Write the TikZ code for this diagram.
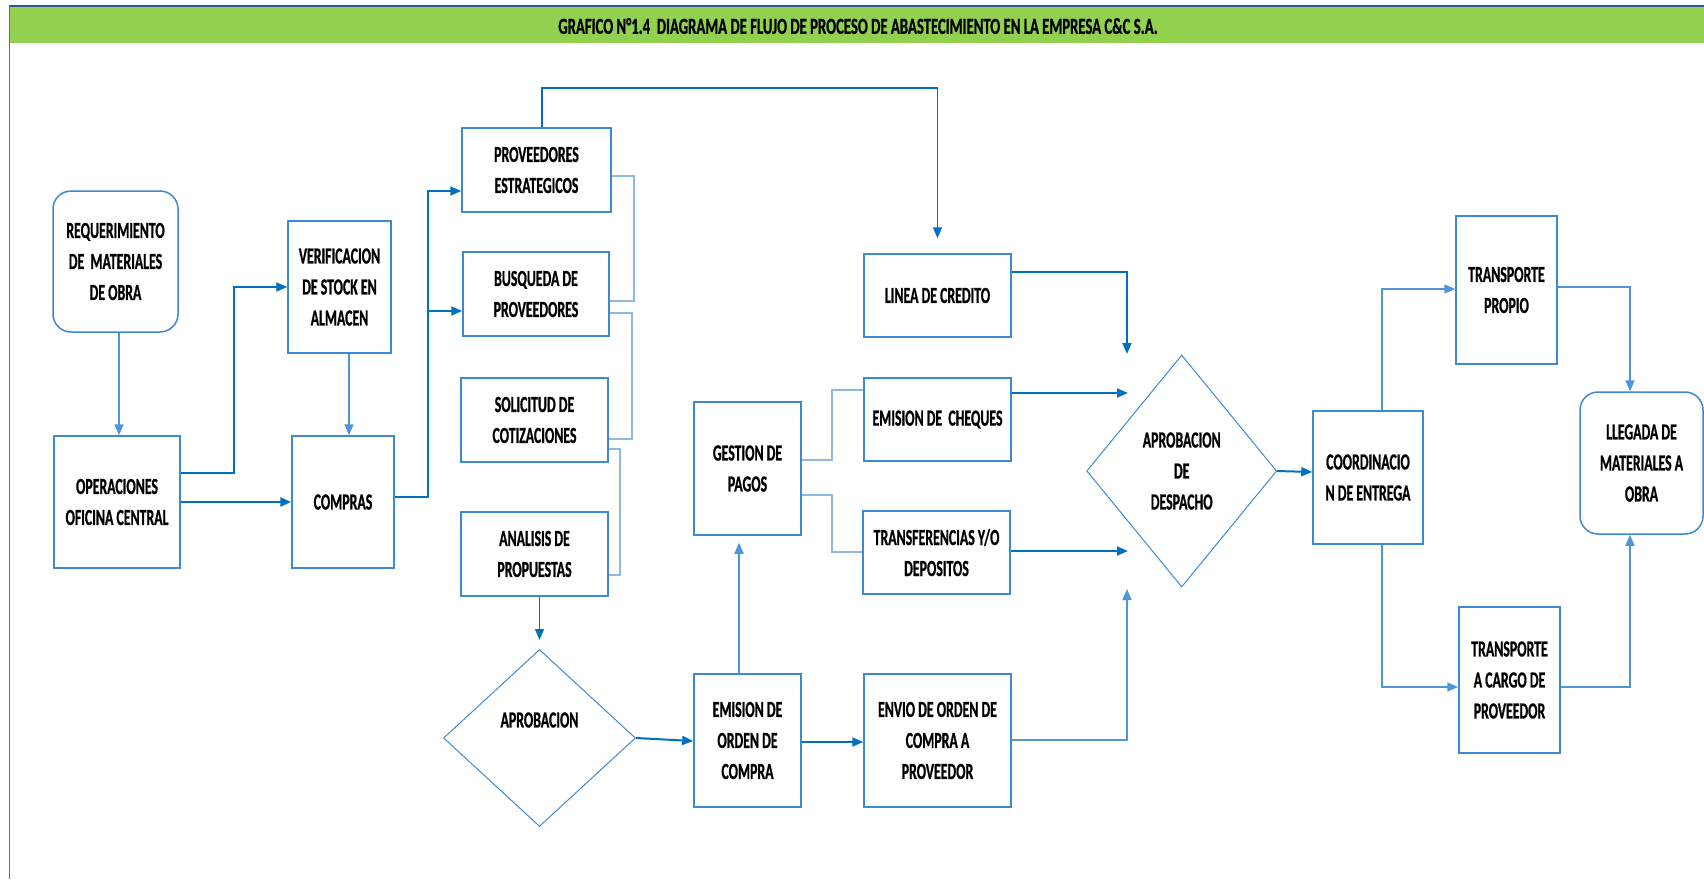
\documentclass[tikz,border=0pt]{standalone}
\usepackage{fontspec}
\usetikzlibrary{arrows.meta,shapes.geometric}
\newfontfamily\flowfont{Carlito}[FakeStretch=0.6, FakeBold=0.8]
\newfontfamily\headfont{Carlito}[FakeStretch=0.64, FakeBold=0.8]
\definecolor{boxblue}{HTML}{3E8AD2}
\definecolor{arrowblue}{HTML}{0070C0}
\definecolor{midblue}{HTML}{4F96D8}
\definecolor{lightblue}{HTML}{8DB9E3}
\definecolor{bandgreen}{HTML}{92D050}
\definecolor{frameblue}{HTML}{2F5597}
\definecolor{sideblue}{HTML}{4472C4}
\tikzset{
  stepbox/.style={draw=boxblue, line width=1.5pt, fill=white, inner sep=0pt,
    align=center, font=\flowfont\bfseries\fontsize{23}{31}\selectfont},
  roundbox/.style={stepbox, rounded corners=18pt},
  decision/.style={draw=boxblue, line width=1pt, diamond, inner sep=0pt,
    font=\flowfont\bfseries\fontsize{23}{31}\selectfont, align=center},
  arr/.style={draw=arrowblue, line width=2pt, -{Triangle[length=11pt,width=9pt]}},
  midarr/.style={draw=midblue, line width=1.5pt, -{Triangle[length=11pt,width=9pt]}},
  link/.style={draw=lightblue, line width=1.5pt},
}
\begin{document}
\begin{tikzpicture}[x=1pt,y=-1pt]
\useasboundingbox (0,0) rectangle (1704,879);
% frame and title band
\fill[white] (0,0) rectangle (1704,879);
\fill[bandgreen] (9,7) rectangle (1704,43);
\draw[frameblue, line width=2pt] (9,6) -- (1704,6);
\draw[sideblue, line width=1pt] (9,6) -- (9,879);
\node[font=\headfont\bfseries\fontsize{23}{27}\selectfont] (title) at (858,26)
  {GRAFICO N°1.4~~DIAGRAMA DE FLUJO DE PROCESO DE ABASTECIMIENTO EN LA EMPRESA C\&C S.A.};

% nodes
\node[roundbox, minimum width=125pt, minimum height=141pt] (req) at (115.5,261.5)
  {REQUERIMIENTO\\DE~~MATERIALES\\DE OBRA};
\node[stepbox, minimum width=126pt, minimum height=132pt] (oper) at (117,502)
  {OPERACIONES\\OFICINA CENTRAL};
\node[stepbox, minimum width=103pt, minimum height=132pt] (verif) at (339.5,287)
  {VERIFICACION\\DE STOCK EN\\ALMACEN};
\node[stepbox, minimum width=102pt, minimum height=132pt] (compras) at (343,502)
  {COMPRAS};
\node[stepbox, minimum width=149pt, minimum height=84pt] (prov) at (536.5,170)
  {PROVEEDORES\\ESTRATEGICOS};
\node[stepbox, minimum width=146pt, minimum height=84pt] (busq) at (536,294)
  {BUSQUEDA DE\\PROVEEDORES};
\node[stepbox, minimum width=147pt, minimum height=84pt] (solic) at (534.5,420)
  {SOLICITUD DE\\COTIZACIONES};
\node[stepbox, minimum width=147pt, minimum height=84pt] (anal) at (534.5,554)
  {ANALISIS DE\\PROPUESTAS};
\node[decision, minimum width=192pt, minimum height=177pt] (aprob) at (539.5,738) {};
\node[font=\flowfont\bfseries\fontsize{23}{31}\selectfont] (aprobtxt) at (539.5,720) {APROBACION};
\node[stepbox, minimum width=107pt, minimum height=133pt] (emision) at (747.5,740.5)
  {EMISION DE\\ORDEN DE\\COMPRA};
\node[stepbox, minimum width=107pt, minimum height=133pt] (gestion) at (747.5,468.5)
  {GESTION DE\\PAGOS};
\node[stepbox, minimum width=147pt, minimum height=133pt] (envio) at (937.5,740.5)
  {ENVIO DE ORDEN DE\\COMPRA A\\PROVEEDOR};
\node[stepbox, minimum width=147pt, minimum height=83pt] (linea) at (937.5,295.5)
  {LINEA DE CREDITO};
\node[stepbox, minimum width=147pt, minimum height=83pt] (cheques) at (937.5,419.5)
  {EMISION DE~~CHEQUES};
\node[stepbox, minimum width=147pt, minimum height=83pt] (transf) at (936.5,552.5)
  {TRANSFERENCIAS Y/O\\DEPOSITOS};
\node[decision, minimum width=190pt, minimum height=232pt] (despacho) at (1181.7,471)
  {APROBACION\\DE\\DESPACHO};
\node[stepbox, minimum width=110pt, minimum height=133pt] (coord) at (1368,477.5)
  {COORDINACIO\\N DE ENTREGA};
\node[stepbox, minimum width=101pt, minimum height=148pt] (propio) at (1506.5,290)
  {TRANSPORTE\\PROPIO};
\node[stepbox, minimum width=101pt, minimum height=146pt] (cargo) at (1509.5,680)
  {TRANSPORTE\\A CARGO DE\\PROVEEDOR};
\node[roundbox, minimum width=123pt, minimum height=142pt] (llegada) at (1641.5,463)
  {LLEGADA DE\\MATERIALES A\\OBRA};

% free ends of the arrows that converge on the dispatch approval
\coordinate (inA) at (1127,354);
\coordinate (inB) at (1128,393);
\coordinate (inC) at (1128,551);
\coordinate (inD) at (1127,589);
\coordinate (fork) at (428,311);

% connectors
\draw[midarr] (req.south -| 119,0) -- (oper.north -| 119,0);
\draw[arr] (oper.east |- 0,473) -| (234,380) |- (verif.west);
\draw[arr, line width=2.5pt] (oper) -- (compras);
\draw[midarr] (verif.south -| 349,0) -- (compras.north -| 349,0);
\draw[arr, line width=1.6pt] (compras.east |- 0,497) -| (428,191) -- (prov.west |- 0,191);
\draw[arr, line width=1.6pt] (fork) -- (busq.west |- 0,311);

\draw[link] (prov.east |- 0,176) -| (634,250) |- (busq.east |- 0,301);
\draw[link] (busq.east |- 0,313) -| (632,400) |- (solic.east |- 0,439);
\draw[link] (solic.east |- 0,449) -| (620,500) |- (anal.east |- 0,575);

\draw[arr, line width=1.5pt, shorten >=9pt] (anal.south -| 539.5,0) -- (aprob.north);
\draw[arr] (aprob.east) -- (emision.west |- 0,741);
\draw[midarr, shorten >=7pt] (emision.north -| 739,0) -- (gestion.south -| 739,0);
\draw[arr] (emision.east |- 0,742) -- (envio.west |- 0,742);

\draw[arr, line width=1.6pt, shorten >=15pt] (prov.north -| 542,0) |- (937.5,88) -- (linea.north);

\draw[arr, line width=1.6pt] (linea.east |- 0,272) -| (inA);
\draw[arr] (cheques.east |- 0,393) -- (inB);
\draw[arr] (transf.east |- 0,551) -- (inC);
\draw[midarr] (envio.east |- 0,740) -| (inD);

\draw[link] (gestion.east |- 0,460) -| (832,420) |- (cheques.west |- 0,390);
\draw[link] (gestion.east |- 0,495) -| (832,520) |- (transf.west |- 0,552);

\draw[arr] (despacho.east) -- (coord.west |- 0,472);
\draw[midarr] (coord.north -| 1382,0) |- (propio.west |- 0,289);
\draw[midarr] (coord.south -| 1382,0) |- (cargo.west |- 0,687);
\draw[midarr] (propio.east |- 0,287) -| (llegada.north -| 1630,0);
\draw[midarr] (cargo.east |- 0,687) -| (llegada.south -| 1630,0);
\end{tikzpicture}
\end{document}
